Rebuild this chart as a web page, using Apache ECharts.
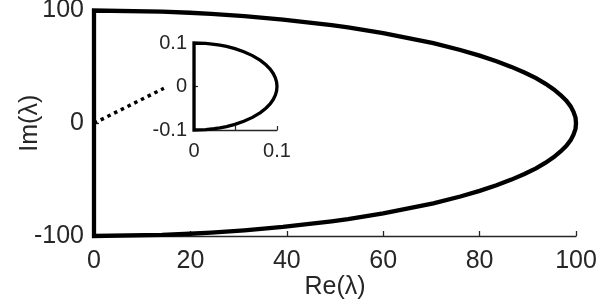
<!DOCTYPE html>
<html>
<head>
<meta charset="utf-8">
<script src="https://cdn.jsdelivr.net/npm/echarts@6/dist/echarts.min.js"></script>
<style>html,body{margin:0;padding:0;background:#fff}#c{width:598px;height:303px}</style>
</head>
<body>
<div id="c"></div>
<script>
// Main curve (upper half), from (0,100) to (100,0)
const mainUpperRe = [0, 14.1, 19.9, 24.3, 31.2, 39.2, 49.3, 52.7, 60, 70.4, 76, 80, 83.5, 86.6, 89.3, 91.7, 93.7, 95.4, 96.8, 98, 98.9, 99.5, 99.9, 100];
const mainUpperIm = [100, 99, 98, 97, 95, 92, 87, 85, 80, 71, 65, 60, 55, 50, 45, 40, 35, 30, 25, 20, 15, 10, 5, 0];
// Inset curve (upper half), from (0,0.1) to (0.1,0)
const insetUpperRe = [0, 0.0141, 0.0243, 0.0312, 0.0392, 0.0493, 0.06, 0.0704, 0.08, 0.0866, 0.0917, 0.0954, 0.098, 0.0995, 0.1];
const insetUpperIm = [0.1, 0.099, 0.097, 0.095, 0.092, 0.087, 0.08, 0.071, 0.06, 0.05, 0.04, 0.03, 0.02, 0.01, 0];
// Dotted pointer line
const pointerRe = [0, 14.5];
const pointerIm = [0, 31];
// Tick labels
const mainXTicks = [0, 20, 40, 60, 80, 100];
const mainYTicks = [-100, 0, 100];
const insetXLabels = [0, 0.1];
const insetYTicks = [-0.1, 0, 0.1];

function closedShape(re, im) {
  const pts = [[0, 0]];
  for (let i = 0; i < re.length; i++) pts.push([re[i], im[i]]);
  for (let i = re.length - 2; i >= 0; i--) pts.push([re[i], -im[i]]);
  pts.push([0, 0]);
  return pts;
}
function pick(list, v) {
  const t = list.find(t => Math.abs(t - v) < 1e-9);
  return t === undefined ? '' : String(t);
}

const txt = '#262626';
const font = 'Liberation Sans, Arial, Helvetica, sans-serif';
const chart = echarts.init(document.getElementById('c'), null, {renderer: 'canvas'});
chart.setOption({
  animation: false,
  backgroundColor: '#fff',
  grid: [
    {left: 94, right: 22, top: 10.5, bottom: 67, containLabel: false, outerBoundsMode: 'none'},
    {left: 194, top: 43, width: 83, height: 87, containLabel: false, outerBoundsMode: 'none'}
  ],
  xAxis: [
    {
      gridIndex: 0, type: 'value', min: 0, max: 100, interval: 20,
      name: 'Re(λ)', nameLocation: 'middle', nameGap: 39, nameMoveOverlap: false,
      nameTextStyle: {color: txt, fontSize: 25, fontFamily: font},
      axisLine: {onZero: false, lineStyle: {color: txt, width: 1.3}},
      axisTick: {inside: true, length: 5, lineStyle: {color: txt, width: 1.3}},
      axisLabel: {color: txt, fontSize: 25, fontFamily: font, margin: 13,
        formatter: v => pick(mainXTicks, v)},
      splitLine: {show: false}
    },
    {
      gridIndex: 1, type: 'value', min: 0, max: 0.1, interval: 0.05,
      axisLine: {onZero: false, lineStyle: {color: txt, width: 1.3}},
      axisTick: {inside: true, length: 4, lineStyle: {color: txt, width: 1.2}},
      axisLabel: {color: txt, fontSize: 20, fontFamily: font, margin: 11,
        formatter: v => pick(insetXLabels, v)},
      splitLine: {show: false}
    }
  ],
  yAxis: [
    {
      gridIndex: 0, type: 'value', min: -100, max: 100, interval: 100,
      name: 'Im(λ)', nameLocation: 'middle', nameGap: 51, nameMoveOverlap: false,
      nameTextStyle: {color: txt, fontSize: 25, fontFamily: font},
      axisLine: {onZero: false, lineStyle: {color: txt, width: 1.3}},
      axisTick: {inside: true, length: 5, lineStyle: {color: txt, width: 1.3}},
      axisLabel: {color: txt, fontSize: 25, fontFamily: font, margin: 10,
        formatter: v => pick(mainYTicks, v)},
      splitLine: {show: false}
    },
    {
      gridIndex: 1, type: 'value', min: -0.1, max: 0.1, interval: 0.1,
      axisLine: {onZero: false, lineStyle: {color: txt, width: 1.3}},
      axisTick: {inside: true, length: 4, lineStyle: {color: txt, width: 1.2}},
      axisLabel: {color: txt, fontSize: 20, fontFamily: font, margin: 7,
        formatter: v => pick(insetYTicks, v)},
      splitLine: {show: false}
    }
  ],
  series: [
    {
      type: 'line', xAxisIndex: 0, yAxisIndex: 0, showSymbol: false, clip: false,
      data: closedShape(mainUpperRe, mainUpperIm),
      lineStyle: {color: '#000', width: 4.3, join: 'miter'}
    },
    {
      type: 'line', xAxisIndex: 0, yAxisIndex: 0, showSymbol: false, clip: false,
      data: pointerRe.map((x, i) => [x, pointerIm[i]]),
      lineStyle: {color: '#000', width: 3.5, type: [3.5, 4], cap: 'butt'}
    },
    {
      type: 'line', xAxisIndex: 1, yAxisIndex: 1, showSymbol: false, clip: false,
      data: closedShape(insetUpperRe, insetUpperIm),
      lineStyle: {color: '#000', width: 3.3, join: 'miter'}
    }
  ]
});
</script>
</body>
</html>
